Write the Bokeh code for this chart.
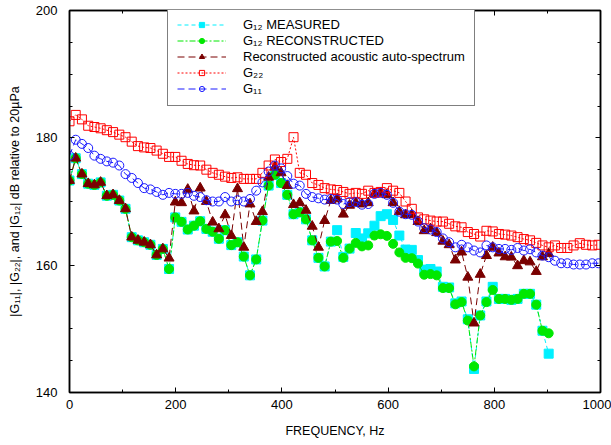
from bokeh.plotting import figure
from bokeh.models import Range1d, SingleIntervalTicker, LinearAxis, Legend, LegendItem
from bokeh.embed import file_html
from bokeh.resources import INLINE

# Frequency bins (Hz)
freq = [0, 11.7, 23.4, 35.2, 46.9, 58.6, 70.3, 82.0, 93.8, 105.5, 117.2, 128.9, 140.6, 152.4,
        164.1, 175.8, 187.5, 199.2, 211.0, 222.7, 234.4, 246.1, 257.8, 269.6, 281.3, 293.0,
        304.7, 316.4, 328.2, 339.9, 351.6, 363.3, 375.0, 386.8, 398.5, 410.2, 421.9, 433.6,
        445.4, 457.1, 468.8, 480.5, 492.2, 504.0, 515.7, 527.4, 539.1, 550.8, 562.6, 574.3,
        586.0, 597.7, 609.4, 621.2, 632.9, 644.6, 656.3, 668.0, 679.8, 691.5, 703.2, 714.9,
        726.6, 738.4, 750.1, 761.8, 773.5, 785.2, 797.0, 808.7, 820.4, 832.1, 843.8, 855.6,
        867.3, 879.0, 890.7, 902.4, 914.2, 925.9, 937.6, 949.3, 961.0, 972.8, 984.5, 996.2]

g22 = [182.6, 183.6, 182.9, 181.9, 181.7, 181.5, 181.2, 180.9, 180.5, 180.1,
       179.4, 178.7, 178.5, 178.4, 178.0, 177.5, 177.0, 177.0, 176.4, 175.9,
       175.7, 175.65, 175.0, 174.5, 174.2, 173.9, 173.7, 173.8, 173.55, 173.55,
       173.55, 174.5, 175.65, 176.6, 176.2, 176.7, 180.1, 174.5, 174.2, 172.9,
       172.6, 172.1, 171.9, 171.8, 171.5, 171.2, 171.35, 171.2, 171.7, 171.35,
       171.5, 172.1, 171.7, 171.35, 170.0, 168.85, 167.5, 167.2, 167.0, 166.85,
       166.85, 166.5, 166.1, 165.95, 165.2, 164.9, 164.5, 165.4, 165.3, 164.9,
       164.8, 164.65, 164.4, 164.1, 163.9, 163.5, 163.1, 162.8, 163.1, 162.7,
       162.7, 163.1, 163.45, 163.2, 163.1, 163.2]

g11 = [177.2, 179.7, 179.05, 178.4, 177.2, 176.7, 176.3, 176.1, 175.65, 174.3,
       173.7, 172.9, 172.1, 171.9, 171.5, 171.05, 171.35, 171.2, 171.2, 171.35,
       170.9, 170.7, 170.2, 170.0, 170.0, 170.7, 170.0, 170.2, 170.0, 170.4,
       171.7, 173.0, 174.7, 175.65, 175.2, 174.0, 172.8, 172.5, 171.2, 170.7,
       170.5, 170.3, 170.4, 170.3, 169.6, 169.9, 169.9, 169.5, 169.6, 171.2,
       171.35, 171.05, 169.8, 168.4, 168.0, 167.9, 166.85, 165.8, 165.6, 165.2,
       164.2, 163.6, 162.8, 163.2, 162.8, 162.3, 162.0, 163.1, 162.8, 162.55,
       162.55, 162.4, 162.7, 162.3, 162.5, 162.0, 161.5, 161.25, 160.7, 160.3,
       160.3, 160.1, 160.1, 160.1, 160.3, 160.3]

auto_spec = [173.3, 176.8, 174.3, 172.8, 172.6, 173.0, 170.9, 171.05, 170.15, 168.85,
             164.4, 163.9, 163.6, 163.2, 161.6, 162.55, 161.1, 169.9, 169.8, 171.9,
             168.5, 172.1, 170.0, 166.75, 165.7, 167.9, 164.65, 172.0, 162.8, 169.6,
             166.85, 168.4, 173.8, 175.4, 174.5, 172.5, 169.5, 169.8, 168.6, 166.1,
             162.8, 167.0, 170.15, 170.4, 168.0, 169.4, 169.8, 169.6, 169.8, 171.2,
             171.35, 171.05, 169.8, 168.4, 167.9, 167.9, 166.85, 165.4, 165.7, 165.1,
             163.75, 163.2, 160.8, 162.05, 158.1, 150.9, 158.55, 161.5, 162.8, 161.9,
             161.3, 161.25, 159.9, 160.7, 160.5, 159.0, 161.3, 161.8]

g12_rec = [173.3, 176.8, 174.3, 172.8, 172.6, 173.0, 170.9, 171.05, 170.15, 168.85,
           164.4, 163.9, 163.6, 163.2, 161.6, 162.55, 159.4, 167.5, 166.8, 165.6,
           166.2, 166.9, 165.7, 165.25, 164.15, 165.5, 163.15, 163.6, 161.35, 158.4,
           160.9, 167.0, 172.5, 174.2, 172.9, 171.05, 168.0, 168.3, 167.2, 163.9,
           161.15, 159.8, 163.7, 163.8, 161.15, 162.6, 163.5, 162.95, 163.1, 164.65,
           164.85, 164.6, 163.35, 162.0, 161.15, 161.1, 160.25, 158.5, 158.6, 158.4,
           156.4, 156.4, 153.85, 154.2, 151.3, 144.1, 152.1, 154.2, 156.1, 154.7,
           154.7, 154.55, 154.7, 155.5, 155.5, 153.8, 149.7, 149.3]

g12_meas = [173.3, 176.8, 174.3, 172.8, 172.6, 173.0, 170.9, 171.05, 170.15, 168.85,
            164.4, 163.9, 163.6, 163.2, 161.6, 162.55, 159.4, 167.5, 166.8, 165.6,
            166.2, 166.9, 165.7, 165.25, 164.15, 165.5, 163.15, 163.6, 161.35, 158.4,
            160.9, 167.0, 172.5, 174.2, 172.9, 171.05, 168.0, 168.3, 167.2, 163.9,
            161.15, 159.8, 163.7, 165.5, 161.3, 162.6, 165.05, 164.2, 165.0, 166.2,
            167.7, 168.0, 167.1, 164.65, 162.45, 162.4, 160.8, 159.3, 159.4, 159.0,
            156.6, 156.5, 154.0, 154.3, 151.5, 143.7, 152.1, 154.3, 156.6, 154.7,
            154.7, 154.55, 154.7, 155.5, 155.5, 153.8, 149.7, 146.1]

f12 = freq[:len(g12_rec)]

FONT = "Liberation Sans"
CYAN = "#00F0FF"
GREEN = "#00E800"
MAROON = "#7A0000"
RED = "#FF0000"
BLUE = "#1A1AFF"

p = figure(width=611, height=445, output_backend="svg", toolbar_location=None,
           x_range=Range1d(0, 1000), y_range=Range1d(140, 200),
           x_axis_type=None, y_axis_type=None,
           min_border_left=69, min_border_right=11, min_border_top=10, min_border_bottom=53)
p.grid.visible = False
p.outline_line_color = "black"
p.outline_line_width = 1.5
p.background_fill_color = "white"
p.border_fill_color = "white"


def make_axis(ticker, label=None, show_labels=True):
    ax = LinearAxis(ticker=ticker)
    ax.major_tick_in = 5
    ax.major_tick_out = 0
    ax.minor_tick_in = 3
    ax.minor_tick_out = 0
    ax.axis_line_width = 1.5
    ax.axis_line_color = "black"
    ax.major_tick_line_color = "black"
    ax.minor_tick_line_color = "black"
    ax.major_label_text_font = FONT
    ax.major_label_text_font_size = "13px"
    ax.major_label_text_color = "black"
    if not show_labels:
        ax.major_label_text_font_size = "0px"
        ax.major_label_standoff = 0
        ax.major_label_text_color = None
    if label:
        ax.axis_label = label
        ax.axis_label_text_font = FONT
        ax.axis_label_text_font_size = "12.5px"
        ax.axis_label_text_font_style = "normal"
        ax.axis_label_text_color = "black"
    return ax


xb = make_axis(SingleIntervalTicker(interval=200, num_minor_ticks=2), "FREQUENCY, Hz")
xb.major_label_standoff = 7
xb.axis_label_standoff = 12
p.add_layout(xb, "below")
yl = make_axis(SingleIntervalTicker(interval=20, num_minor_ticks=4),
               "|G\u2081\u2081|, |G\u2082\u2082|, and |G\u2081\u2082| dB relative to 20\u00b5Pa")
yl.major_label_standoff = 12
yl.axis_label_standoff = 11
p.add_layout(yl, "left")
p.add_layout(make_axis(SingleIntervalTicker(interval=200, num_minor_ticks=2), show_labels=False), "above")
p.add_layout(make_axis(SingleIntervalTicker(interval=20, num_minor_ticks=4), show_labels=False), "right")

# G12 measured
l1 = p.line(f12, g12_meas, line_color=CYAN, line_width=1, line_dash="4 3")
m1 = p.scatter(f12, g12_meas, marker="square", size=9, fill_color=CYAN, line_color=CYAN)
# G12 reconstructed
l2 = p.line(f12, g12_rec, line_color=GREEN, line_width=1, line_dash="6 2 2 2")
m2 = p.scatter(f12, g12_rec, marker="circle", size=9, fill_color=GREEN, line_color=GREEN)
# Reconstructed acoustic auto-spectrum
l3 = p.line(f12, auto_spec, line_color=MAROON, line_width=1, line_dash="7 4")
m3 = p.scatter(f12, auto_spec, marker="triangle", size=10, fill_color=MAROON, line_color=MAROON)
# G22
l4 = p.line(freq, g22, line_color=RED, line_width=1, line_dash="2 2")
m4 = p.scatter(freq, g22, marker="square", size=9, fill_color=None, line_color=RED, line_width=1)
# G11
l5 = p.line(freq, g11, line_color=BLUE, line_width=1, line_dash="7 4")
m5 = p.scatter(freq, g11, marker="circle", size=9, fill_color=None, line_color=BLUE, line_width=1)

legend = Legend(items=[
    LegendItem(label="G\u2081\u2082 MEASURED", renderers=[l1, m1]),
    LegendItem(label="G\u2081\u2082 RECONSTRUCTED", renderers=[l2, m2]),
    LegendItem(label="Reconstructed acoustic auto-spectrum", renderers=[l3, m3]),
    LegendItem(label="G\u2082\u2082", renderers=[l4, m4]),
    LegendItem(label="G\u2081\u2081", renderers=[l5, m5]),
], location=(98, 286))
legend.label_text_font = FONT
legend.label_text_font_size = "13px"
legend.label_text_color = "black"
legend.glyph_width = 49
legend.glyph_height = 13
legend.label_height = 13
legend.label_standoff = 17
legend.padding = 9
legend.spacing = 1
legend.margin = 0
legend.border_line_color = "black"
legend.border_line_width = 1.5
legend.background_fill_color = "white"
legend.background_fill_alpha = 1.0
p.add_layout(legend)

open("out.html", "w").write(file_html(p, INLINE))
